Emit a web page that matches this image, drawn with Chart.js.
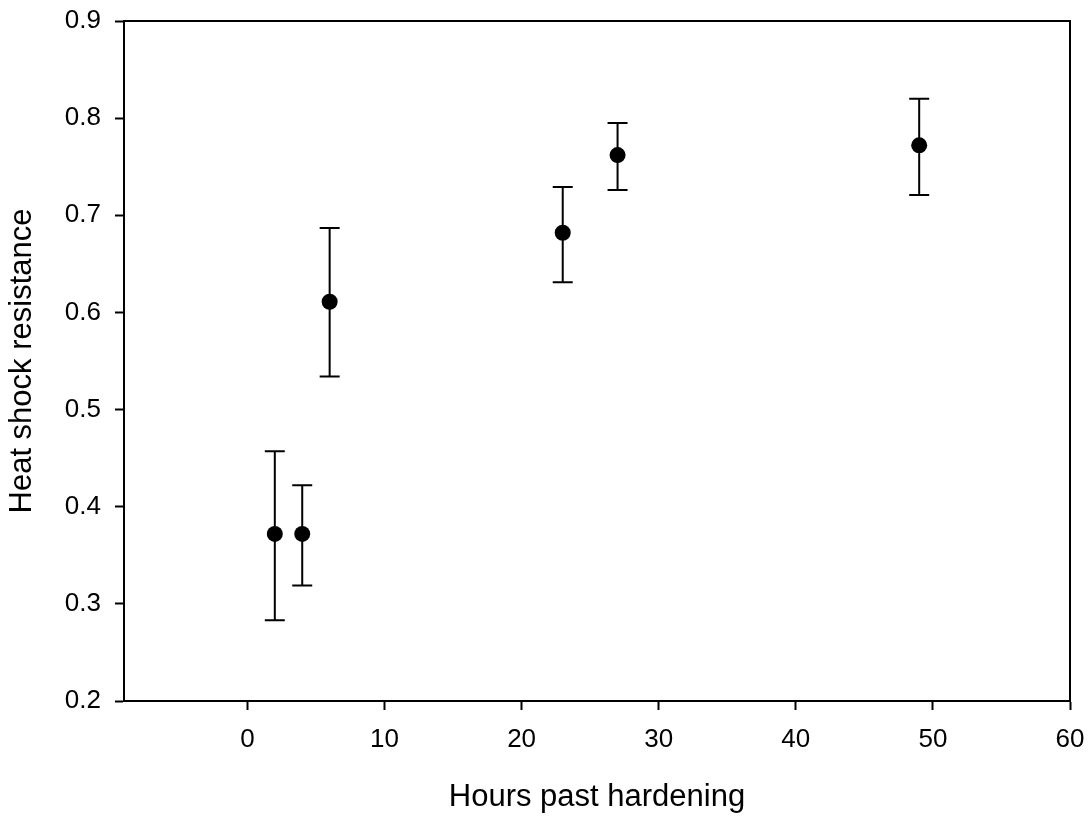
<!DOCTYPE html>
<html>
<head>
<meta charset="utf-8">
<script src="https://cdn.jsdelivr.net/npm/chart.js@4/dist/chart.umd.min.js"></script>
<style>
  html, body { margin: 0; padding: 0; background: #fff; overflow: hidden; }
  #wrap { width: 1090px; height: 819px; }
  canvas { display: block; }
</style>
</head>
<body>
<div id="wrap"><canvas id="chart"></canvas></div>
<script>
// --- data ---
const hours = [2, 4, 6, 23, 27, 49];
const resistance = [0.372, 0.372, 0.611, 0.682, 0.762, 0.772];
const errUpper = [0.457, 0.422, 0.687, 0.729, 0.795, 0.820];
const errLower = [0.283, 0.319, 0.534, 0.631, 0.726, 0.721];

const xTicks = [0, 10, 20, 30, 40, 50, 60];
const yTicks = [0.2, 0.3, 0.4, 0.5, 0.6, 0.7, 0.8, 0.9];

const FONT = "'Liberation Sans', Arial, sans-serif";

// error bars with caps, drawn through the scales
const errorBars = {
    id: 'errorBars',
    beforeDatasetsDraw(chart) {
        const { ctx, scales: { x, y } } = chart;
        ctx.save();
        ctx.strokeStyle = '#000';
        ctx.lineWidth = 2;
        hours.forEach((h, i) => {
            const px = x.getPixelForValue(h);
            const top = y.getPixelForValue(errUpper[i]);
            const bot = y.getPixelForValue(errLower[i]);
            ctx.beginPath();
            ctx.moveTo(px, top); ctx.lineTo(px, bot);
            ctx.moveTo(px - 10, top); ctx.lineTo(px + 10, top);
            ctx.moveTo(px - 10, bot); ctx.lineTo(px + 10, bot);
            ctx.stroke();
        });
        ctx.restore();
    }
};

// top and right edges of the frame
const frame = {
    id: 'frame',
    afterDraw(chart) {
        const { ctx, chartArea: a } = chart;
        ctx.save();
        ctx.strokeStyle = '#000';
        ctx.lineWidth = 2;
        ctx.beginPath();
        ctx.moveTo(a.left, a.top);
        ctx.lineTo(a.right, a.top);
        ctx.lineTo(a.right, a.bottom);
        ctx.stroke();
        ctx.restore();
    }
};

new Chart(document.getElementById('chart'), {
    type: 'scatter',
    data: {
        datasets: [{
            data: hours.map((h, i) => ({ x: h, y: resistance[i] })),
            backgroundColor: '#000',
            borderColor: '#000',
            pointRadius: 8,
            pointHoverRadius: 8,
            borderWidth: 0
        }]
    },
    options: {
        responsive: true,
        maintainAspectRatio: false,
        animation: false,
        events: [],
        layout: { padding: { top: 21, right: 20, left: 0, bottom: 0 } },
        plugins: { legend: { display: false }, tooltip: { enabled: false } },
        scales: {
            x: {
                type: 'linear',
                min: -9,
                max: 60,
                afterBuildTicks: s => { s.ticks = xTicks.map(v => ({ value: v })); },
                afterFit: s => { s.height = 118; s.paddingLeft = 0; s.paddingRight = 0; },
                grid: { drawOnChartArea: false, tickLength: 9, tickColor: '#000', tickWidth: 2 },
                border: { display: true, color: '#000', width: 2 },
                ticks: { color: '#000', padding: 14, font: { family: FONT, size: 26 }, maxRotation: 0 },
                title: {
                    display: true,
                    text: 'Hours past hardening',
                    color: '#000',
                    font: { family: FONT, size: 31 },
                    padding: { top: 0, bottom: 3 }
                }
            },
            y: {
                type: 'linear',
                min: 0.2,
                max: 0.9,
                afterBuildTicks: s => { s.ticks = yTicks.map(v => ({ value: v })); },
                afterFit: s => { s.width = 124; s.paddingTop = 0; s.paddingBottom = 0; },
                grid: { drawOnChartArea: false, tickLength: 9, tickColor: '#000', tickWidth: 2 },
                border: { display: true, color: '#000', width: 2 },
                ticks: {
                    color: '#000',
                    padding: 14,
                    font: { family: FONT, size: 26 },
                    callback: v => Number(v).toFixed(1)
                },
                title: {
                    display: true,
                    text: 'Heat shock resistance',
                    color: '#000',
                    font: { family: FONT, size: 31 },
                    padding: { top: 4, bottom: 0 }
                }
            }
        }
    },
    plugins: [errorBars, frame]
});
</script>
</body>
</html>
